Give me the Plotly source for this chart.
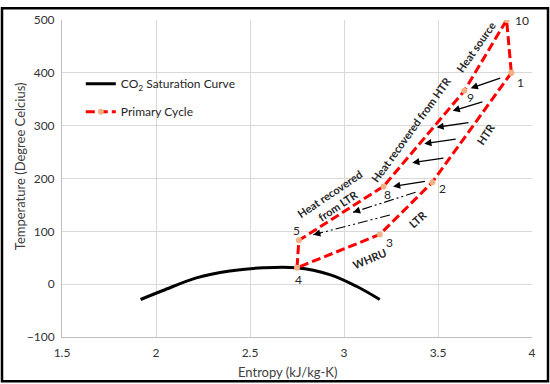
import plotly.graph_objects as go

# ---- data ----
sat_s = [1.918, 2.037, 2.215, 2.392, 2.569, 2.747, 2.924, 3.066, 3.19]
sat_T = [-29, -12, 12, 25, 31, 31, 18, -4, -29]

cycle_s = [3.89, 3.47, 3.19, 2.75, 2.76, 3.21, 3.64, 3.865, 3.89]
cycle_T = [400, 193, 94, 31, 83, 185, 366, 500, 400]

point_labels = ["1", "2", "3", "4", "5", "8", "9", "10"]
label_dx = [9, 10, 10, 1, -2, 4, 6, 15]
label_dy = [-10, -6, -8, -12, 10, -8, -7, 0]

# solid arrows (HTR): tail -> head
htr_tail_s = [3.839, 3.744, 3.670, 3.602, 3.537, 3.439]
htr_tail_T = [391, 346, 306, 275, 239, 195]
htr_head_s = [3.674, 3.578, 3.492, 3.427, 3.363, 3.261]
htr_head_T = [371, 328, 297, 266, 230, 185]

# dash-dot arrows (LTR): tail -> head
ltr_tail_s = [3.381, 3.244]
ltr_tail_T = [174, 131]
ltr_head_s = [3.048, 2.836]
ltr_head_T = [136, 93.5]

# rotated text labels
txt = ["Heat source", "Heat recovered from HTR", "HTR", "LTR", "WHRU", "Heat recovered<br>from LTR"]
txt_s = [3.702, 3.357, 3.75, 3.389, 3.137, 2.946]
txt_T = [450, 292, 284, 123, 48, 160]
txt_ang = [-55, -54, -56, -42, -23, -34]

x_ticks = [1.5, 2, 2.5, 3, 3.5, 4]
y_ticks = [-100, 0, 100, 200, 300, 400, 500]

FONT = "Lato, 'Open Sans', sans-serif"
TXT = "#262626"
TICK = "#333333"

fig = go.Figure()
fig.add_trace(go.Scatter(
    x=sat_s, y=sat_T, mode="lines", name="CO<sub>2</sub> Saturation Curve",
    line=dict(color="black", width=3, shape="spline", smoothing=1.0),
    legendgroup="a"))
fig.add_trace(go.Scatter(
    x=cycle_s, y=cycle_T, mode="lines+markers", name="Primary Cycle",
    line=dict(color="#FF0000", width=3, dash="9px,4px"),
    marker=dict(color="#F4B183", size=6),
    legendgroup="b"))

# dash-dot lines for LTR arrows
for i in range(len(ltr_tail_s)):
    fig.add_trace(go.Scatter(
        x=[ltr_tail_s[i], ltr_head_s[i]], y=[ltr_tail_T[i], ltr_head_T[i]],
        mode="lines", showlegend=False, hoverinfo="skip",
        line=dict(color="black", width=1.2, dash="10px,3px,2px,3px,2px,3px")))

ann = []
for i in range(len(htr_tail_s)):
    ann.append(dict(x=htr_head_s[i], y=htr_head_T[i], ax=htr_tail_s[i], ay=htr_tail_T[i],
                    xref="x", yref="y", axref="x", ayref="y", text="", showarrow=True,
                    arrowhead=2, arrowsize=1.1, arrowwidth=1.3, arrowcolor="black"))
for i in range(len(ltr_tail_s)):
    fs = ltr_head_s[i] + 0.12 * (ltr_tail_s[i] - ltr_head_s[i])
    ft = ltr_head_T[i] + 0.12 * (ltr_tail_T[i] - ltr_head_T[i])
    ann.append(dict(x=ltr_head_s[i], y=ltr_head_T[i], ax=fs, ay=ft,
                    xref="x", yref="y", axref="x", ayref="y", text="", showarrow=True,
                    arrowhead=2, arrowsize=1.1, arrowwidth=1.3, arrowcolor="black"))

# point labels
for i, lab in enumerate(point_labels):
    ann.append(dict(x=cycle_s[i], y=cycle_T[i], text=lab, showarrow=False,
                    xshift=label_dx[i], yshift=label_dy[i],
                    font=dict(family=FONT, size=12, color=TXT)))

for i in range(len(txt)):
    ann.append(dict(x=txt_s[i], y=txt_T[i], text="<b>" + txt[i] + "</b>", showarrow=False,
                    textangle=txt_ang[i], font=dict(family=FONT, size=11, color=TXT)))

# axis titles
ann.append(dict(x=0.48, y=-0.078, xref="paper", yref="paper", text="Entropy (kJ/kg-K)",
                showarrow=False, yanchor="top", font=dict(family=FONT, size=13, color="#404040")))
ann.append(dict(x=-0.112, y=0.54, xref="paper", yref="paper", text="Temperature (Degree Celcius)",
                showarrow=False, textangle=-90, font=dict(family=FONT, size=13, color="#404040")))

fig.update_layout(
    width=550, height=384,
    margin=dict(l=62, r=18, t=14, b=47),
    paper_bgcolor="white", plot_bgcolor="white",
    font=dict(family=FONT, size=12, color="#404040"),
    showlegend=True,
    legend=dict(x=0.04, y=0.845, xanchor="left", yanchor="top",
                bgcolor="rgba(0,0,0,0)", tracegroupgap=9,
                font=dict(family=FONT, size=12, color=TXT)),
    annotations=ann,
    shapes=[dict(type="rect", xref="paper", yref="paper",
                 x0=-60/470, x1=1 + 16/470, y0=-45/323, y1=1 + 12/323,
                 line=dict(color="black", width=2.5))],
)
fig.update_xaxes(range=[1.5, 4], tickvals=x_ticks, ticktext=[str(v) for v in x_ticks],
                 showgrid=True, gridcolor="#D9D9D9", gridwidth=1, zeroline=False,
                 showline=True, linecolor="#BFBFBF", ticks="", ticklabelstandoff=5,
                 tickfont=dict(size=12, color=TICK))
fig.update_yaxes(range=[-100, 500], tickvals=y_ticks,
                 showgrid=True, gridcolor="#D9D9D9", gridwidth=1, zeroline=False,
                 showline=True, linecolor="#BFBFBF", ticks="", ticklabelstandoff=4,
                 tickfont=dict(size=12, color=TICK))

fig.write_html("out.html", config={"displayModeBar": False},
               post_script="document.body.style.margin='0';")
